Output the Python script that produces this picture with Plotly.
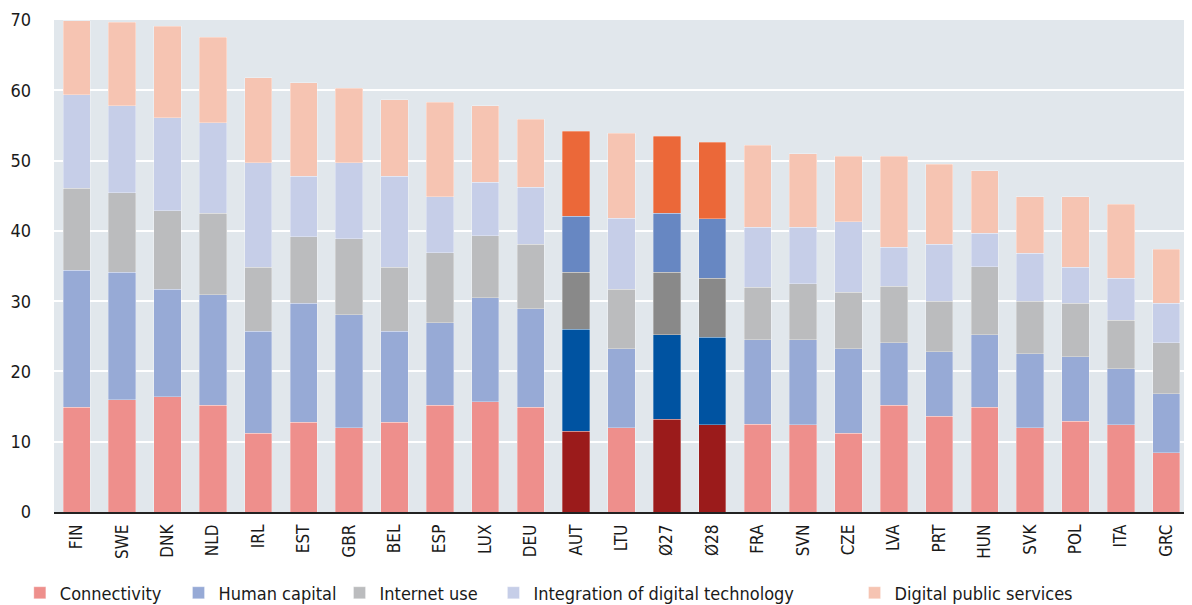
import plotly.graph_objects as go

countries = ["FIN", "SWE", "DNK", "NLD", "IRL", "EST", "GBR", "BEL", "ESP", "LUX", "DEU", "AUT", "LTU",
             "Ø27", "Ø28", "FRA", "SVN", "CZE", "LVA", "PRT", "HUN", "SVK", "POL", "ITA", "GRC"]
highlight = ["AUT", "Ø27", "Ø28"]

connectivity = [14.9, 16.0, 16.4, 15.2, 11.2, 12.8, 12.0, 12.8, 15.2, 15.7, 14.9, 11.5, 12.0,
                13.2, 12.4, 12.5, 12.4, 11.2, 15.2, 13.6, 14.9, 12.0, 12.9, 12.4, 8.4]
human_capital = [19.5, 18.1, 15.3, 15.7, 14.5, 16.9, 16.1, 12.9, 11.7, 14.8, 14.0, 14.5, 11.2,
                 12.0, 12.5, 12.0, 12.1, 12.0, 8.9, 9.2, 10.3, 10.5, 9.2, 8.0, 8.4]
internet_use = [11.7, 11.3, 11.2, 11.6, 9.1, 9.5, 10.8, 9.1, 10.0, 8.8, 9.2, 8.1, 8.5,
                8.9, 8.4, 7.5, 8.0, 8.1, 8.0, 7.2, 9.7, 7.5, 7.6, 6.9, 7.3]
integration = [13.3, 12.4, 13.2, 12.9, 14.9, 8.6, 10.8, 13.0, 8.0, 7.6, 8.1, 8.0, 10.1,
               8.4, 8.4, 8.5, 8.0, 10.0, 5.6, 8.1, 4.8, 6.8, 5.1, 6.0, 5.6]
public_services = [10.5, 11.9, 13.0, 12.2, 12.1, 13.3, 10.6, 10.9, 13.4, 10.9, 9.7, 12.1, 12.1,
                   11.0, 10.9, 11.7, 10.5, 9.3, 12.9, 11.4, 8.9, 8.1, 10.1, 10.5, 7.7]
y_ticks = [0, 10, 20, 30, 40, 50, 60, 70]

series = [
    ("Connectivity", connectivity, "#EE8F8C", "#9B1B1B"),
    ("Human capital", human_capital, "#97AAD6", "#0053A1"),
    ("Internet use", internet_use, "#BBBCBE", "#898989"),
    ("Integration of digital technology", integration, "#C6CEE8", "#6787C2"),
    ("Digital public services", public_services, "#F6C4B2", "#EB6839"),
]
# one legend per series so each entry can sit where it does in the original
legend_x = [0.010, 0.144, 0.280, 0.410, 0.715]

font_family = "Liberation Sans Narrow, Arial Narrow, DejaVu Sans Condensed, sans-serif"

fig = go.Figure()
for i, (name, vals, light, dark) in enumerate(series):
    cols = [dark if c in highlight else light for c in countries]
    fig.add_trace(go.Bar(
        x=countries, y=vals, name=name,
        legend="legend" if i == 0 else f"legend{i + 1}",
        marker=dict(color=cols, line=dict(color="rgba(255,255,255,0.5)", width=0.6)),
    ))

legends = {}
for i, lx in enumerate(legend_x):
    key = "legend" if i == 0 else f"legend{i + 1}"
    legends[key] = dict(
        orientation="h", xref="container", x=lx, xanchor="left",
        yref="container", y=0.02, yanchor="middle",
        font=dict(size=18), itemwidth=30, bgcolor="rgba(0,0,0,0)",
    )

# page body has an 8px margin, so the figure is 8px smaller than the window
fig.update_layout(
    barmode="stack",
    bargap=0.4,
    width=1184, height=597,
    margin=dict(l=46, r=3, t=12, b=93),
    plot_bgcolor="#E1E7EC",
    paper_bgcolor="white",
    font=dict(family=font_family, size=18, color="#1a1a1a"),
    showlegend=True,
    **legends,
)
fig.update_yaxes(
    range=[0, 70.02], tickmode="array", tickvals=y_ticks,
    showgrid=True, gridcolor="white", gridwidth=2,
    zeroline=False, ticks="", tickfont=dict(size=18), automargin=False,
    ticklabelstandoff=22,
)
fig.update_xaxes(
    tickangle=-90, showline=True, linecolor="#222", linewidth=1.5,
    ticks="", tickfont=dict(size=17), automargin=False, ticklabelstandoff=4,
)

fig.write_html("out.html")
